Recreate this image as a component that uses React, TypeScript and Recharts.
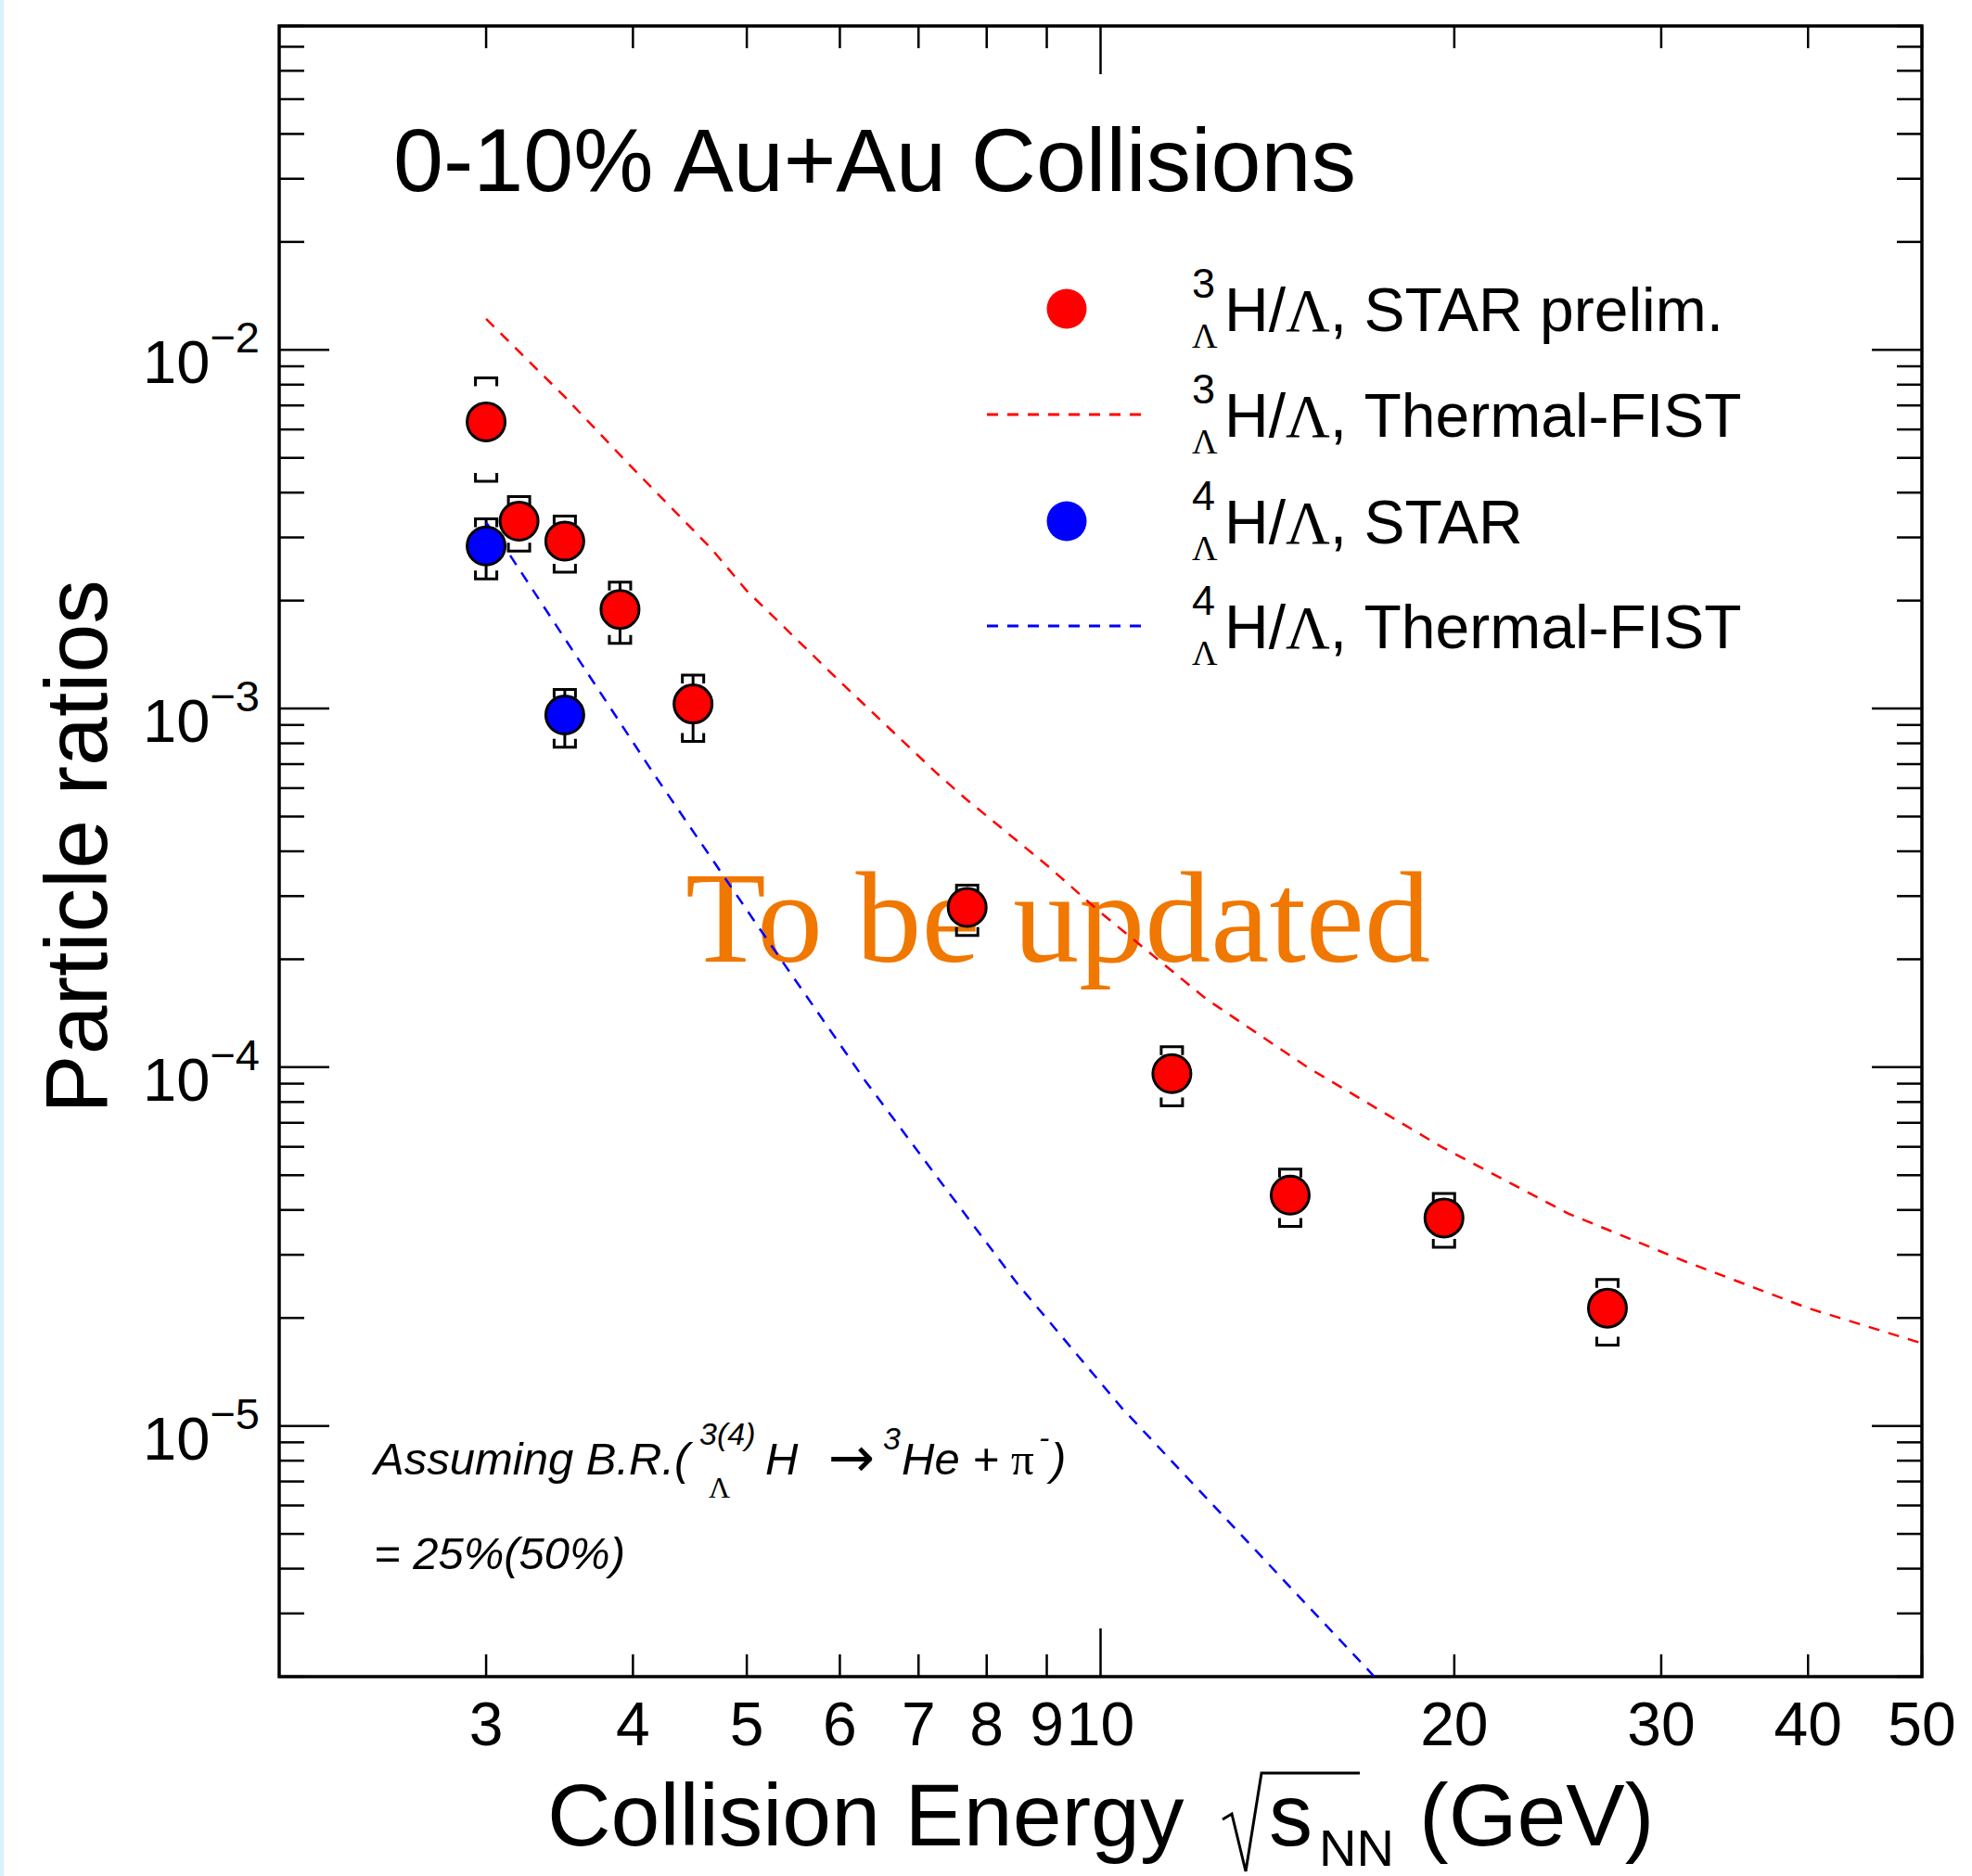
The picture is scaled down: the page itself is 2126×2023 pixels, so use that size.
import React from 'react';
import { ScatterChart, Scatter, XAxis, YAxis, ErrorBar, ReferenceArea } from 'recharts';

const W = 2126;
const H = 2023;
// plot frame in page pixels (ROOT style, ticks inside)
const PLOT = { left: 301, right: 2072, top: 28, bottom: 1808 };
const SANS = '"Liberation Sans", Arial, Helvetica, sans-serif';
const SERIF = '"Liberation Serif", "Times New Roman", serif';

// 3ΛH/Λ, STAR prelim.
const h3Energy = [3.0, 3.2, 3.5, 3.9, 4.5, 7.7, 11.5, 14.5, 19.6, 27.0];
const h3Ratio = [6.3e-3, 3.33e-3, 2.93e-3, 1.89e-3, 1.03e-3, 2.79e-4, 9.6e-5, 4.4e-5, 3.8e-5, 2.13e-5];
const h3SysLow = [4.3e-3, 2.75e-3, 2.4e-3, 1.52e-3, 8.1e-4, 2.33e-4, 7.8e-5, 3.6e-5, 3.15e-5, 1.68e-5];
const h3SysHigh = [8.35e-3, 3.9e-3, 3.44e-3, 2.25e-3, 1.24e-3, 3.22e-4, 1.14e-4, 5.2e-5, 4.45e-5, 2.56e-5];
const h3StatLow = [6.3e-3, 3.33e-3, 2.93e-3, 1.52e-3, 8.1e-4, 2.79e-4, 9.6e-5, 4.4e-5, 3.8e-5, 2.13e-5];
const h3StatHigh = [6.3e-3, 3.33e-3, 2.93e-3, 2.25e-3, 1.24e-3, 2.79e-4, 9.6e-5, 4.4e-5, 3.8e-5, 2.13e-5];

// 4ΛH/Λ, STAR
const h4Energy = [3.0, 3.5];
const h4Ratio = [2.84e-3, 9.6e-4];
const h4SysLow = [2.3e-3, 7.8e-4];
const h4SysHigh = [3.38e-3, 1.13e-3];
const h4StatLow = [2.3e-3, 7.8e-4];
const h4StatHigh = [3.38e-3, 1.13e-3];

// Thermal-FIST curves
const h3FistEnergy = [3.0, 3.5, 4.0, 4.66, 5.0, 6.0, 7.23, 7.66, 9.0, 10.0, 12.3, 15.0, 19.5, 25.0, 31.4, 40.0, 50.0];
const h3FistRatio = [0.0122, 7.4e-3, 4.67e-3, 2.8e-3, 2.13e-3, 1.19e-3, 6.67e-4, 5.64e-4, 3.66e-4, 2.7e-4, 1.55e-4, 1.0e-4, 6.0e-5, 3.91e-5, 2.88e-5, 2.13e-5, 1.7e-5];
const h4FistEnergy = [3.0, 3.15, 4.17, 5.12, 6.31, 7.3, 8.49, 10.43, 17.1];
const h4FistRatio = [3.3e-3, 2.65e-3, 6.55e-4, 2.45e-4, 9.14e-5, 4.82e-5, 2.5e-5, 1.12e-5, 2e-6];

// axes
const xDomain = [2, 50];
const yDomain = [2e-6, 0.08];
const xTicks = [3, 4, 5, 6, 7, 8, 9, 10, 20, 30, 40, 50];
const xMajorTicks = [10];
const yMajorTicks = [1e-5, 1e-4, 1e-3, 1e-2];
const yTicks = [
  2e-6, 3e-6, 4e-6, 5e-6, 6e-6, 7e-6, 8e-6, 9e-6,
  1e-5, 2e-5, 3e-5, 4e-5, 5e-5, 6e-5, 7e-5, 8e-5, 9e-5,
  1e-4, 2e-4, 3e-4, 4e-4, 5e-4, 6e-4, 7e-4, 8e-4, 9e-4,
  1e-3, 2e-3, 3e-3, 4e-3, 5e-3, 6e-3, 7e-3, 8e-3, 9e-3,
  1e-2, 2e-2, 3e-2, 4e-2, 5e-2, 6e-2, 7e-2, 8e-2,
];

const legendRows = [
  { kind: 'marker', color: '#ff0000', mass: '3', label: ', STAR prelim.' },
  { kind: 'line', color: '#ff0000', mass: '3', label: ', Thermal-FIST' },
  { kind: 'marker', color: '#0000ff', mass: '4', label: ', STAR' },
  { kind: 'line', color: '#0000ff', mass: '4', label: ', Thermal-FIST' },
];
const legendRowY = [333, 447, 562, 675];

// tables for recharts
const h3Points = h3Energy.map((x, i) => ({ x, y: h3Ratio[i], stat: [h3Ratio[i] - h3StatLow[i], h3StatHigh[i] - h3Ratio[i]] }));
const h3Top = h3Energy.map((x, i) => ({ x, y: h3SysHigh[i] }));
const h3Bottom = h3Energy.map((x, i) => ({ x, y: h3SysLow[i] }));
const h4Points = h4Energy.map((x, i) => ({ x, y: h4Ratio[i], stat: [h4Ratio[i] - h4StatLow[i], h4StatHigh[i] - h4Ratio[i]] }));
const h4Top = h4Energy.map((x, i) => ({ x, y: h4SysHigh[i] }));
const h4Bottom = h4Energy.map((x, i) => ({ x, y: h4SysLow[i] }));
const h3Fist = h3FistEnergy.map((x, i) => ({ x, y: h3FistRatio[i] }));
const h4Fist = h4FistEnergy.map((x, i) => ({ x, y: h4FistRatio[i] }));

const isMajorY = (v: number) => yMajorTicks.some((m) => Math.abs(m - v) / m < 1e-6);

const XTick = (props: any) => {
  const { x, payload } = props;
  const v = payload.value;
  const len = xMajorTicks.includes(v) ? 52 : 24;
  return (
    <g>
      <line x1={x} x2={x} y1={PLOT.bottom} y2={PLOT.bottom - len} stroke="#000" strokeWidth={2.5} />
      <line x1={x} x2={x} y1={PLOT.top} y2={PLOT.top + len} stroke="#000" strokeWidth={2.5} />
      <text x={x} y={1882} textAnchor="middle" fontSize={66} fontFamily={SANS} fill="#000">
        {v}
      </text>
    </g>
  );
};

const YTick = (props: any) => {
  const { y, payload } = props;
  const v = payload.value;
  const major = isMajorY(v);
  const len = major ? 54 : 27;
  const exp = Math.round(Math.log10(v));
  return (
    <g>
      <line x1={PLOT.left} x2={PLOT.left + len} y1={y} y2={y} stroke="#000" strokeWidth={2.5} />
      <line x1={PLOT.right - len} x2={PLOT.right} y1={y} y2={y} stroke="#000" strokeWidth={2.5} />
      {major && (
        <text x={280} y={y + 36} textAnchor="end" fontSize={65} fontFamily={SANS} fill="#000">
          10
          <tspan dy={-33} fontSize={47}>
            {'\u2212' + Math.abs(exp)}
          </tspan>
        </text>
      )}
    </g>
  );
};

const Marker = (color: string) => (props: any) => {
  const { cx, cy } = props;
  return <circle cx={cx} cy={cy} r={20.5} fill={color} stroke="#000" strokeWidth={3} />;
};

const BracketTop = (props: any) => {
  const { cx, cy } = props;
  return <path d={`M${cx - 11.5},${cy + 9} V${cy} H${cx + 11.5} V${cy + 9}`} fill="none" stroke="#000" strokeWidth={3} />;
};

const BracketBottom = (props: any) => {
  const { cx, cy } = props;
  return <path d={`M${cx - 11.5},${cy - 9} V${cy} H${cx + 11.5} V${cy - 9}`} fill="none" stroke="#000" strokeWidth={3} />;
};

const NoDot = () => <g />;

function TextLayer() {
  return (
    <svg width={W} height={H} style={{ position: 'absolute', left: 0, top: 0 }}>
      {/* title */}
      <text x={424} y={206} fontSize={97} fontFamily={SANS} fill="#000">
        0-10% Au+Au Collisions
      </text>

      {/* watermark */}
      <text x={739} y={1037} fontSize={140} fontFamily={SERIF} fill="#f07700" textLength={803} lengthAdjust="spacingAndGlyphs">
        To be updated
      </text>

      {/* legend */}
      {legendRows.map((r, i) => {
        const cy = legendRowY[i];
        return (
          <g key={i}>
            {r.kind === 'marker' ? (
              <circle cx={1150} cy={cy} r={21.5} fill={r.color} />
            ) : (
              <line x1={1064} x2={1235} y1={cy} y2={cy} stroke={r.color} strokeWidth={3} strokeDasharray="12 10" />
            )}
            <text x={1285} y={cy - 12} fontSize={45} fontFamily={SANS} fill="#000">
              {r.mass}
            </text>
            <text x={1285} y={cy + 42} fontSize={38} fontFamily={SERIF} fill="#000">
              Λ
            </text>
            <text x={1320} y={cy + 23.5} fontSize={66} fontFamily={SANS} fill="#000">
              H/<tspan fontFamily={SERIF}>Λ</tspan>
              {r.label}
            </text>
          </g>
        );
      })}

      {/* branching ratio note */}
      <g fontFamily={SANS} fontStyle="italic" fill="#000">
        <text x={403} y={1590} fontSize={49}>Assuming B.R.(</text>
        <text x={754} y={1558} fontSize={34}>3(4)</text>
        <text x={764} y={1615} fontSize={32} fontFamily={SERIF} fontStyle="normal">Λ</text>
        <text x={825} y={1590} fontSize={49}>H</text>
        <text x={893} y={1592} fontSize={60} fontFamily='"DejaVu Sans", sans-serif' fontStyle="normal">→</text>
        <text x={952} y={1563} fontSize={34}>3</text>
        <text x={972} y={1590} fontSize={49}>He + </text>
        <text x={1090} y={1590} fontSize={49} fontFamily={SERIF} fontStyle="normal">π</text>
        <text x={1120} y={1562} fontSize={34}>-</text>
        <text x={1133} y={1590} fontSize={49}>)</text>
        <text x={403} y={1692} fontSize={49}>= 25%(50%)</text>
      </g>

      {/* axis titles */}
      <text x={115} y={913} fontSize={95} fontFamily={SANS} textAnchor="middle" transform="rotate(-90 115 913)" fill="#000">
        Particle ratios
      </text>
      <g fontFamily={SANS} fill="#000">
        <text x={590} y={1990} fontSize={95}>Collision Energy</text>
        <path d="M1318,1962 L1328,1956 L1343,2018 L1360,1912 L1466,1912" fill="none" stroke="#000" strokeWidth={3} />
        <text x={1368} y={1990} fontSize={94}>s</text>
        <text x={1422} y={2012} fontSize={56}>NN</text>
        <text x={1530} y={1990} fontSize={95}>(GeV)</text>
      </g>
    </svg>
  );
}

export default function App() {
  return (
    <div style={{ position: 'absolute', left: 0, top: 0, width: W, height: H, background: '#fff', overflow: 'hidden' }}>
      <div style={{ position: 'absolute', left: 0, top: 0, width: 4, height: H, background: '#d8f2fa' }} />
      <TextLayer />
      <div style={{ position: 'absolute', left: 0, top: 0 }}>
        <ScatterChart width={W} height={H} margin={{ top: PLOT.top, right: W - PLOT.right, bottom: 0, left: 0 }}>
          <XAxis
            dataKey="x"
            type="number"
            scale="log"
            domain={xDomain}
            ticks={xTicks}
            interval={0}
            allowDataOverflow
            height={H - PLOT.bottom}
            axisLine={false}
            tickLine={false}
            tick={(p: any) => <XTick {...p} />}
          />
          <YAxis
            dataKey="y"
            type="number"
            scale="log"
            domain={yDomain}
            ticks={yTicks}
            interval={0}
            allowDataOverflow
            width={PLOT.left}
            axisLine={false}
            tickLine={false}
            tick={(p: any) => <YTick {...p} />}
          />
          <ReferenceArea x1={2} x2={50} y1={2e-6} y2={0.08} fill="none" stroke="#000" strokeWidth={3.5} ifOverflow="visible" />

          <Scatter data={h3Fist} fill="#ff0000" line={{ stroke: '#ff0000', strokeWidth: 2.5, strokeDasharray: '12 10' }} lineType="joint" shape={NoDot} isAnimationActive={false} />
          <Scatter data={h4Fist} fill="#0000ff" line={{ stroke: '#0000ff', strokeWidth: 2.5, strokeDasharray: '12 10' }} lineType="joint" shape={NoDot} isAnimationActive={false} />

          <Scatter data={h3Top} shape={BracketTop} isAnimationActive={false} />
          <Scatter data={h3Bottom} shape={BracketBottom} isAnimationActive={false} />
          <Scatter data={h4Top} shape={BracketTop} isAnimationActive={false} />
          <Scatter data={h4Bottom} shape={BracketBottom} isAnimationActive={false} />

          <Scatter data={h4Points} fill="#0000ff" shape={Marker('#0000ff')} isAnimationActive={false}>
            <ErrorBar dataKey="stat" direction="y" width={0} stroke="#000" strokeWidth={3} isAnimationActive={false} />
          </Scatter>
          <Scatter data={h3Points} fill="#ff0000" shape={Marker('#ff0000')} isAnimationActive={false}>
            <ErrorBar dataKey="stat" direction="y" width={0} stroke="#000" strokeWidth={3} isAnimationActive={false} />
          </Scatter>
        </ScatterChart>
      </div>
    </div>
  );
}
